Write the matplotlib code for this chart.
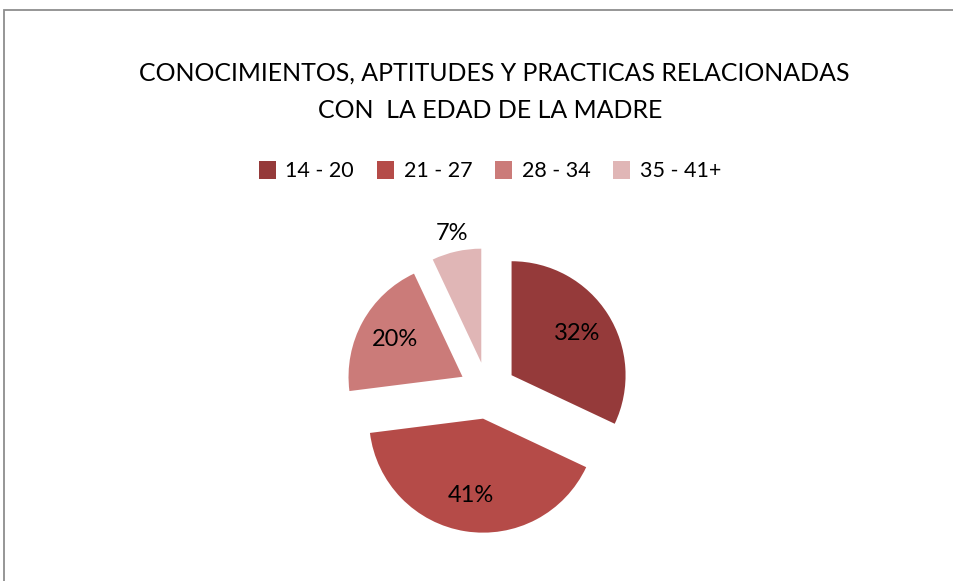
import matplotlib
matplotlib.use("Agg")
import matplotlib.pyplot as plt
from matplotlib.patches import Rectangle
import numpy as np

# Datos
categorias = ["14 - 20", "21 - 27", "28 - 34", "35 - 41+"]
porcentajes = [32, 41, 20, 7]
colores = ["#953A3A", "#B54B48", "#CB7B79", "#E0B6B6"]
titulo_1 = "CONOCIMIENTOS, APTITUDES Y PRACTICAS RELACIONADAS"
titulo_2 = "CON  LA EDAD DE LA MADRE"

plt.rcParams['font.family'] = ['Lato', 'DejaVu Sans']

W, H = 954, 581
fig = plt.figure(figsize=(W / 100, H / 100), dpi=100)

# marco gris del grafico (solo se ven el borde izquierdo y el superior)
fig.add_artist(Rectangle((4 / W, -0.1), 1.2, 1.1 - 10 / H, transform=fig.transFigure,
                         fill=False, edgecolor="#8E8E8E", linewidth=1.3))

# ejes cuadrados centrados en el pastel
cx, cy, r_px, lado = 487.5, 390.5, 114, 340
ax = fig.add_axes([(cx - lado / 2) / W, (H - cy - lado / 2) / H, lado / W, lado / H])

wedges, texts, autotexts = ax.pie(
    porcentajes, explode=[0.25] * 4, colors=colores, startangle=90,
    counterclock=False, autopct='%1.0f%%', pctdistance=0.68,
    wedgeprops=dict(linewidth=0), textprops=dict(fontsize=17, color="black"))

lim = (lado / 2) / r_px
ax.set_xlim(-lim, lim)
ax.set_ylim(-lim, lim)
ax.set_aspect('equal')

# la etiqueta del 7% va por fuera de la porcion
w = wedges[3]
mid = np.deg2rad((w.theta1 + w.theta2) / 2)
autotexts[3].set_position((w.center[0] + 1.16 * np.cos(mid), w.center[1] + 1.16 * np.sin(mid)))

# titulo
t1 = fig.text(494.5 / W, 1 - 73 / H, titulo_1, ha='center', va='center', fontsize=20)
t2 = fig.text(490 / W, 1 - 111 / H, titulo_2, ha='center', va='center', fontsize=20)
fig.canvas.draw()
ancho = t1.get_window_extent().width
tam = 20 * 709 / ancho
t1.set_fontsize(tam)
t2.set_fontsize(tam)

fig.legend(wedges, categorias, loc='center', bbox_to_anchor=(490 / W, 1 - 171 / H),
           ncol=4, frameon=False, fontsize=15.5, handlelength=0.8, handleheight=0.95,
           handletextpad=0.45, columnspacing=1.05, borderpad=0)

fig.savefig("out.png", dpi=100)
